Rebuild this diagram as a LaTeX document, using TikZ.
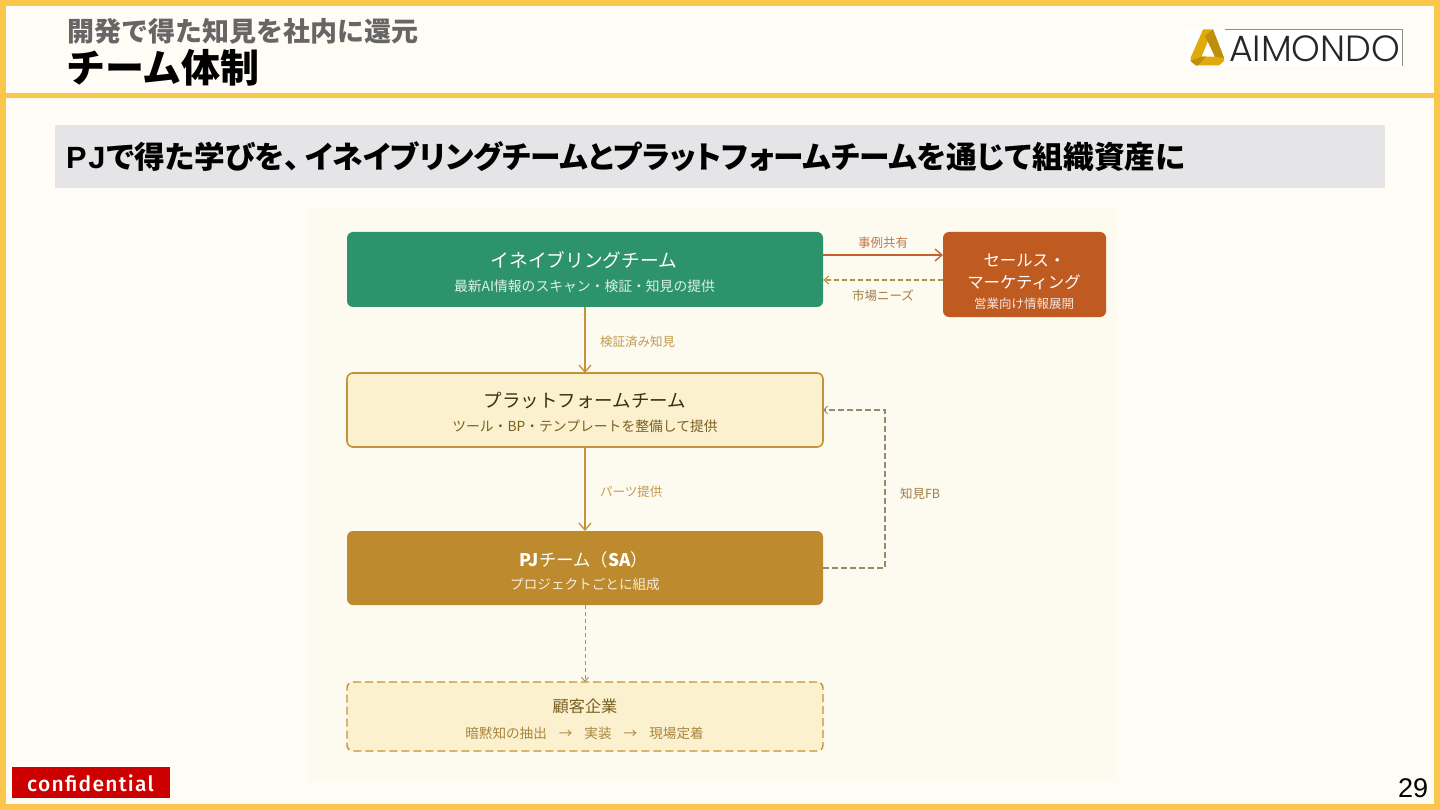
\documentclass[tikz,border=0pt]{standalone}
\usepackage{fontspec}
\usetikzlibrary{arrows.meta}
\setmainfont{Noto Sans CJK JP}
\newfontfamily\palt[RawFeature=+palt]{Noto Sans CJK JP}
\newfontfamily\latinbold{Liberation Sans}
\newfontfamily\logofont{Poppins Light}
\newfontfamily\conf[LetterSpace=6]{Fira Sans Medium}
\definecolor{frameY}{HTML}{FBC64B}
\definecolor{slideBg}{HTML}{FFFCF5}
\definecolor{panelBg}{HTML}{FDFAEF}
\definecolor{band}{HTML}{E5E5E8}
\definecolor{greenB}{HTML}{2D936C}
\definecolor{orangeB}{HTML}{BF5A20}
\definecolor{creamB}{HTML}{FBF1CF}
\definecolor{goldB}{HTML}{BD8A2D}
\definecolor{goldLine}{HTML}{C39239}
\definecolor{orangeLine}{HTML}{C4622D}
\definecolor{dashLine}{HTML}{B0924E}
\definecolor{greyDash}{HTML}{98896A}
\definecolor{labelO}{HTML}{BF7B50}
\definecolor{labelG}{HTML}{C39A50}
\definecolor{labelB}{HTML}{A07F47}
\definecolor{darkT}{HTML}{3D2F12}
\definecolor{midT}{HTML}{7A5F22}
\definecolor{custT}{HTML}{A8853C}
\definecolor{logoA}{HTML}{E0AA0A}
\definecolor{logoB}{HTML}{BE8E0C}
\newcommand{\fs}[1]{\fontsize{#1}{#1}\selectfont}
\tikzset{
  box/.style={rectangle,rounded corners=6pt,minimum width=476pt,minimum height=75pt,inner sep=0pt,outer sep=0pt},
  txt/.style={inner sep=0pt,outer sep=0pt,anchor=center},
  lab/.style={txt,font=\fs{12.5}},
  flow/.style={draw=goldLine,line width=1.6pt,-{Straight Barb[length=7pt,width=12pt,line width=1.3pt]}},
}
\begin{document}
\begin{tikzpicture}[x=1pt,y=-1pt]
\useasboundingbox (0,0) rectangle (1440,810);
\fill[frameY] (0,0) rectangle (1440,810);
\fill[slideBg] (6,6) rectangle (1434,804);
\fill[frameY] (6,93) rectangle (1434,98);
% header
\node[txt,anchor=west,text=black!60,font=\fs{27}\bfseries] (sup) at (67,31) {開発で得た知見を社内に還元};
\node[txt,anchor=west,text=black,font=\fs{39}\bfseries] (ttl) at (66,68) {チーム体制};
% logo
\fill[white] (1187,29) rectangle (1402,66);
\draw[black!45,line width=0.6pt] (1225,29) -- (1402,29) -- (1402,66);
\fill[even odd rule,fill=logoA] (1203,29.5) -- (1213,29.5) -- (1224,58) -- (1224,61) -- (1219,65.5) -- (1196,65.5) -- (1190.5,61) -- (1190.5,58) -- cycle
  (1207.8,41.5) -- (1201.5,56.7) -- (1215,56.7) -- cycle;
\fill[logoB] (1213,29.5) -- (1224,58) -- (1215,56.7) -- (1207.8,41.5) -- (1205,36) -- cycle;
\fill[logoB] (1190.5,61) -- (1201.5,56.7) -- (1206,56.7) -- (1198,65.5) -- (1196,65.5) -- cycle;
\node[txt,anchor=west,text=black!85,font=\logofont\fs{36.5}] (logo) at (1229,49) {AIMONDO};
% band
\fill[band] (55,125) rectangle (1385,188);
\node[txt,anchor=west,text=black,font=\palt\fs{30.7}\bfseries] (head) at (66,156.5) {{\latinbold\bfseries P\kern2ptJ\kern1pt}で得た学びを、\kern5.5ptイネイブリングチームとプラットフォームチームを通じて\kern1pt組織資産に};
% panel
\fill[panelBg] (308,208) rectangle (1118,782);
% boxes
\node[box,fill=greenB] (en) at (585,269.5) {};
\node[box,fill=orangeB,minimum width=163pt,minimum height=85pt] (sales) at (1024.5,274.5) {};
\node[box,fill=creamB,draw=goldLine,line width=1.6pt,minimum height=74pt] (pf) at (585,410) {};
\node[box,fill=goldB,minimum height=74pt] (pj) at (585,568) {};
\node[box,fill=creamB,draw=goldLine,line width=1.4pt,dash pattern=on 8pt off 4pt,minimum height=69pt] (cu) at (585,716.5) {};
% box texts
\node[txt,text=white,font=\fs{18.7}] (t1) at (584,260.5) {イネイブリングチーム};
\node[txt,text=white!85!greenB,font=\fs{13.8}] (t2) at (584.5,286.5) {最新AI情報のスキャン・検証・知見の提供};
\node[txt,text=white,font=\fs{16.4}] (t3) at (1024.5,260) {セールス・};
\node[txt,text=white,font=\fs{16.4}] (t4) at (1024,282) {マーケティング};
\node[txt,text=white!85!orangeB,font=\fs{12.5}] (t5) at (1024,304) {営業向け情報展開};
\node[txt,text=darkT,font=\fs{18.5}] (t6) at (585,401) {プラットフォームチーム};
\node[txt,text=midT,font=\fs{13.8}] (t7) at (585,426.5) {ツール・BP・テンプレートを整備して提供};
\node[txt,text=white,font=\fs{17.4}] (t8) at (584,560) {\textbf{PJ}チーム（\textbf{SA}）};
\node[txt,text=white!85!goldB,font=\fs{13.6}] (t9) at (585,584) {プロジェクトごとに組成};
\node[txt,text=midT,font=\fs{16.2}] (t10) at (585,706) {顧客企業};
\node[txt,text=custT,font=\fs{13.6}] (t11) at (584.5,733) {暗黙知の抽出\hspace{12pt}→\hspace{12pt}実装\hspace{12pt}→\hspace{12pt}現場定着};
% connectors
\draw[flow,draw=orangeLine] ([yshift=14.5pt]en.east) -- ([yshift=19.5pt]sales.west);
\draw[draw=dashLine,line width=1.4pt,dash pattern=on 5pt off 3pt,-{Straight Barb[length=5pt,width=8pt,line width=1.1pt]}] ([yshift=-5.5pt]sales.west) -- ([yshift=-10.5pt]en.east);
\draw[flow] (en.south) -- (pf.north);
\draw[flow] (pf.south) -- (pj.north);
\draw[draw=dashLine,line width=1pt,dash pattern=on 4pt off 3pt,-{Straight Barb[length=4pt,width=7pt,line width=1pt]}] (pj.south) -- (cu.north);
\draw[draw=greyDash,line width=1.2pt,dash pattern=on 6pt off 3pt,-{Straight Barb[length=4pt,width=8pt,line width=1pt]}] (pj.east) -- ++(62,0) |- (pf.east);
% labels
\node[lab,text=labelO] (l1) at (883,242.5) {事例共有};
\node[lab,text=labelB] (l2) at (883,296) {市場ニーズ};
\node[lab,text=labelG,anchor=west] (l3) at (600,341.5) {検証済み知見};
\node[lab,text=labelG,anchor=west] (l4) at (600,491.5) {パーツ提供};
\node[lab,text=labelB,anchor=west] (l5) at (900,493.5) {知見FB};
% footer
\node[rectangle,fill=red!80!black,minimum width=158pt,minimum height=31pt,inner sep=0pt] (cf) at (91,782.5) {};
\node[txt,text=white,font=\conf\fs{21}] (cft) at (90.5,783.5) {confidential};
\node[txt,text=black,font=\latinbold\fs{27}] (pg) at (1413,788.5) {29};
\end{tikzpicture}
\end{document}
